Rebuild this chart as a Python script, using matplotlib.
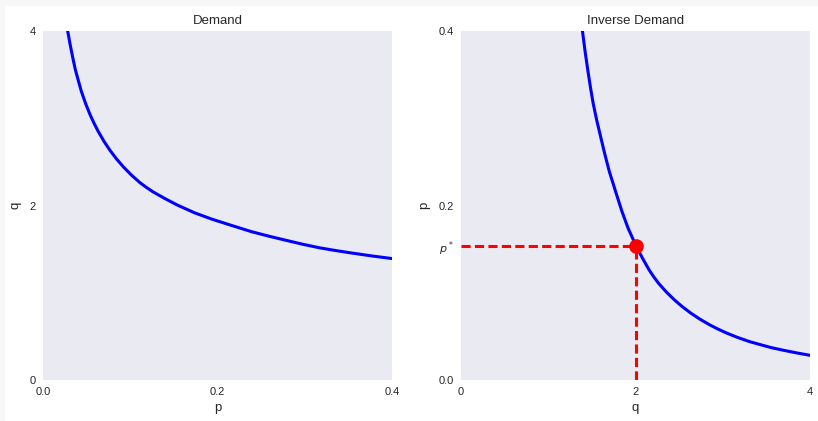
import matplotlib
matplotlib.use("Agg")
import matplotlib.pyplot as plt
from matplotlib.patches import Rectangle

# demand curve: price p and quantity q
p_vals = [0.026, 0.0283, 0.031, 0.034, 0.037, 0.040, 0.0439, 0.049, 0.054,
          0.0585, 0.063, 0.070, 0.0768, 0.084, 0.092, 0.101, 0.111, 0.118,
          0.126, 0.140, 0.154, 0.174, 0.194, 0.216, 0.239, 0.259, 0.279,
          0.298, 0.317, 0.334, 0.352, 0.376, 0.400, 0.420]
q_vals = [4.15, 4.00, 3.85, 3.70, 3.56, 3.45, 3.31, 3.164, 3.04,
          2.943, 2.854, 2.734, 2.632, 2.537, 2.444, 2.352, 2.263, 2.211,
          2.157, 2.078, 2.005, 1.915, 1.842, 1.772, 1.70, 1.648, 1.60,
          1.555, 1.515, 1.486, 1.458, 1.423, 1.392, 1.366]

p_star = 0.154
q_star = 2.0

BG = "#EAEAF2"
TXT = "#262626"

plt.rcParams["font.family"] = ["Liberation Sans", "DejaVu Sans"]
plt.rcParams["text.color"] = TXT
plt.rcParams["axes.labelcolor"] = TXT
plt.rcParams["xtick.color"] = TXT
plt.rcParams["ytick.color"] = TXT
plt.rcParams["mathtext.fontset"] = "dejavusans"

fig = plt.figure(figsize=(8.18, 4.21), dpi=100)
fig.patch.set_facecolor("white")
# light grey page margin on the left and top
fig.patches.append(Rectangle((0, 0), 5 / 818, 1, transform=fig.transFigure,
                             facecolor="#F7F7F7", edgecolor="none", zorder=0))
fig.patches.append(Rectangle((0, 1 - 6 / 421), 1, 6 / 421, transform=fig.transFigure,
                             facecolor="#F7F7F7", edgecolor="none", zorder=0))

ax1 = fig.add_axes([43 / 818, 41 / 421, 349 / 818, 349 / 421])
ax2 = fig.add_axes([461 / 818, 41 / 421, 349 / 818, 349 / 421])

for ax in (ax1, ax2):
    ax.set_facecolor(BG)
    for s in ax.spines.values():
        s.set_visible(False)
    ax.tick_params(length=0, pad=5, labelsize=8)

# left: demand
ax1.plot(p_vals, q_vals, color="blue", lw=2.2)
ax1.set_xlim(0, 0.4)
ax1.set_ylim(0, 4)
ax1.set_xticks([0.0, 0.2, 0.4])
ax1.set_xticklabels(["0.0", "0.2", "0.4"])
ax1.set_yticks([0, 2, 4])
ax1.set_xlabel("p", fontsize=9.5, labelpad=4)
ax1.set_ylabel("q", fontsize=9.5, labelpad=6)
ax1.set_title("Demand", fontsize=9.5, pad=5)

# right: inverse demand
ax2.plot(q_vals, p_vals, color="blue", lw=2.2)
ax2.plot([0, q_star], [p_star, p_star], color="red", lw=2.2, ls="--", dashes=(3, 1.4))
ax2.plot([q_star, q_star], [0, p_star], color="red", lw=2.2, ls="--", dashes=(3, 1.4))
ax2.plot([q_star], [p_star], "o", color="red", ms=9.5)
ax2.set_xlim(0, 4)
ax2.set_ylim(0, 0.4)
ax2.set_xticks([0, 2, 4])
ax2.set_yticks([0.0, p_star, 0.2, 0.4])
ax2.set_yticklabels(["0.0", "$p^*$", "0.2", "0.4"])
ax2.set_xlabel("q", fontsize=9.5, labelpad=4)
ax2.set_ylabel("p", fontsize=9.5, labelpad=6)
ax2.set_title("Inverse Demand", fontsize=9.5, pad=5)

fig.savefig("out.png", dpi=100)
